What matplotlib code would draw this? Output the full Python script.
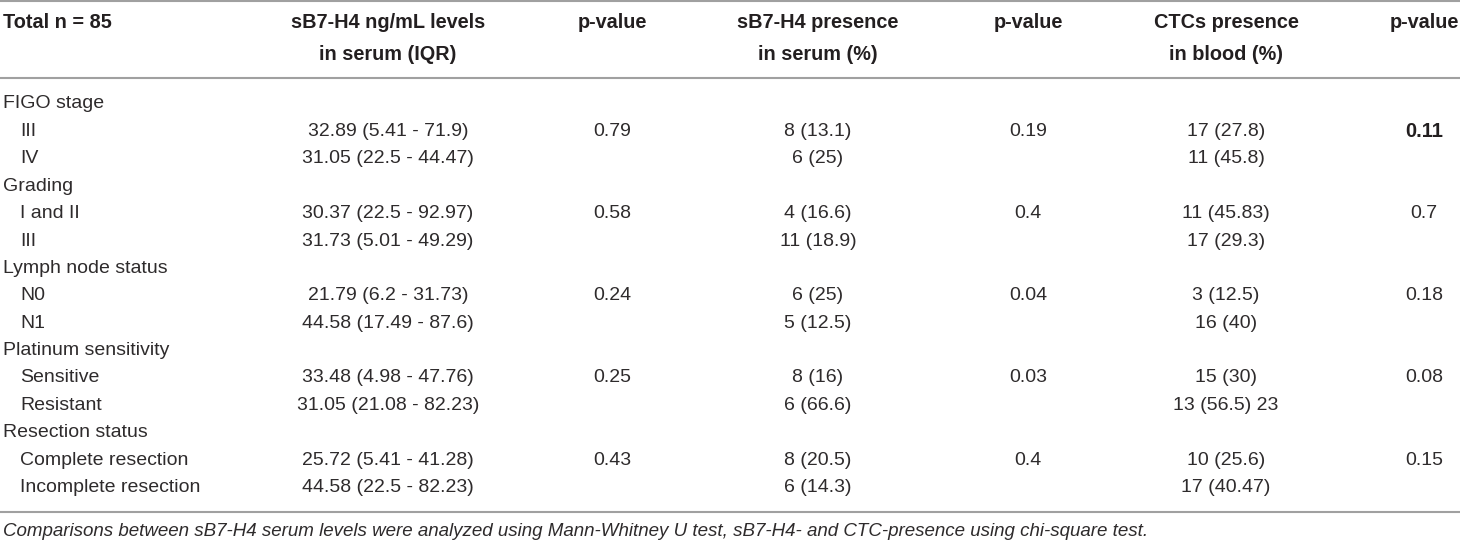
import matplotlib
matplotlib.use("Agg")
import matplotlib.pyplot as plt

# table content
headers = ["Total n = 85", "sB7-H4 ng/mL levels\nin serum (IQR)", "p-value",
           "sB7-H4 presence\nin serum (%)", "p-value", "CTCs presence\nin blood (%)", "p-value"]
groups = ["FIGO stage", "Grading", "Lymph node status", "Platinum sensitivity", "Resection status"]
subgroups = [["III", "IV"], ["I and II", "III"], ["N0", "N1"],
             ["Sensitive", "Resistant"], ["Complete resection", "Incomplete resection"]]
levels = [["32.89 (5.41 - 71.9)", "31.05 (22.5 - 44.47)"],
          ["30.37 (22.5 - 92.97)", "31.73 (5.01 - 49.29)"],
          ["21.79 (6.2 - 31.73)", "44.58 (17.49 - 87.6)"],
          ["33.48 (4.98 - 47.76)", "31.05 (21.08 - 82.23)"],
          ["25.72 (5.41 - 41.28)", "44.58 (22.5 - 82.23)"]]
p_levels = ["0.79", "0.58", "0.24", "0.25", "0.43"]
presence = [["8 (13.1)", "6 (25)"], ["4 (16.6)", "11 (18.9)"], ["6 (25)", "5 (12.5)"],
            ["8 (16)", "6 (66.6)"], ["8 (20.5)", "6 (14.3)"]]
p_presence = ["0.19", "0.4", "0.04", "0.03", "0.4"]
ctcs = [["17 (27.8)", "11 (45.8)"], ["11 (45.83)", "17 (29.3)"], ["3 (12.5)", "16 (40)"],
        ["15 (30)", "13 (56.5) 23"], ["10 (25.6)", "17 (40.47)"]]
p_ctcs = ["0.11", "0.7", "0.18", "0.08", "0.15"]
footnote = ("Comparisons between sB7-H4 serum levels were analyzed using Mann-Whitney U test, "
            "sB7-H4- and CTC-presence using chi-square test.")

body_font = "Liberation Sans"
txt = "#231f20"
body_c = "#2e2b2c"
line_c = "#a0a0a0"
fs = 14

fig = plt.figure(figsize=(14.6, 5.43), dpi=100)
ax = fig.add_axes([0, 0, 1, 1])
ax.set_xlim(0, 1460)
ax.set_ylim(543, 0)
ax.axis("off")

col_x = [3, 388, 612, 818, 1028, 1226, 1424]

# header
for i, h in enumerate(headers):
    ha = "left" if i == 0 else "center"
    y = 38.5 if "\n" in h else 23
    ax.text(col_x[i], y, h, ha=ha, va="center", fontsize=14.3, fontweight="bold",
            family="Liberation Sans", color=txt, linespacing=1.85)

ax.axhline(1, color=line_c, lw=1.5)
ax.axhline(78, color=line_c, lw=1.5)
ax.axhline(512, color=line_c, lw=1.5)

y0, dy = 104, 27.4
row = 0
for g in range(len(groups)):
    y = y0 + row * dy
    ax.text(3, y, groups[g], ha="left", va="center", fontsize=fs, family=body_font, color=body_c)
    row += 1
    for k in range(2):
        y = y0 + row * dy
        ax.text(20, y, subgroups[g][k], ha="left", va="center", fontsize=fs,
                family=body_font, color=body_c)
        ax.text(col_x[1], y, levels[g][k], ha="center", va="center", fontsize=fs,
                family=body_font, color=body_c)
        ax.text(col_x[3], y, presence[g][k], ha="center", va="center", fontsize=fs,
                family=body_font, color=body_c)
        ax.text(col_x[5], y, ctcs[g][k], ha="center", va="center", fontsize=fs,
                family=body_font, color=body_c)
        if k == 0:
            for c, vals in [(2, p_levels), (4, p_presence), (6, p_ctcs)]:
                # the FIGO stage CTC p-value is printed in bold
                bold = (c == 6 and g == 0)
                ax.text(col_x[c], y, vals[g], ha="center", va="center",
                        fontsize=14.5 if bold else fs,
                        fontweight="bold" if bold else "normal",
                        family=body_font, color=txt if bold else body_c)
        row += 1

ax.text(3, 531, footnote, ha="left", va="center", fontsize=13.5, style="italic",
        family=body_font, color=body_c)

fig.savefig("out.png", dpi=100)
